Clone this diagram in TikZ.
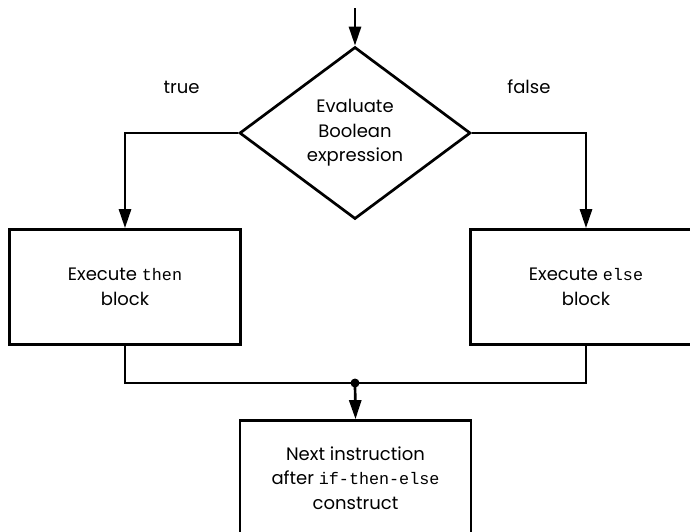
\documentclass[tikz,border=0pt]{standalone}
\usepackage{fontspec}
\setmainfont{Poppins}
\setmonofont[Scale=0.93]{Liberation Mono}
\usetikzlibrary{arrows.meta,shapes.geometric}

\begin{document}
\begin{tikzpicture}[x=1pt,y=-1pt,line width=2.7pt,
    font=\fontsize{18}{24.5}\selectfont,
    flow/.style={-{Triangle[length=19pt,width=12pt]}},
    decision/.style={diamond,draw,minimum width=231pt,minimum height=172pt,
        aspect=1.34,inner sep=0pt,align=center},
    block/.style={rectangle,draw,minimum width=231pt,minimum height=115pt,
        inner sep=0pt,align=center}]
    \useasboundingbox (0,0) rectangle (690,531);
    \clip (0,0) rectangle (690,531);

    % Test and the two branches:
    \coordinate (entry) at (355,8);
    \node [decision] (cond) at (355,133) {Evaluate\\Boolean\\expression};
    \node [block] (thenbox) at (125,287) {Execute \texttt{then}\\block};
    \node [block] (elsebox) at (586,287) {Execute \texttt{else}\\block};
    \node [block] (nextbox) at (355.5,478) {Next instruction\\after \texttt{if-then-else}\\construct};

    \draw [flow] (entry) -- (cond.north);
    \draw [flow] (cond.west) -| (thenbox.north) node [pos=0.25,above=35pt] {true};
    \draw [flow] (cond.east) -| (elsebox.north) node [pos=0.25,above=35pt] {false};

    % Both branches meet again:
    \coordinate (join) at (355,383);
    \draw (thenbox.south) |- (join) -| (elsebox.south);
    \fill (join) circle (4.5pt);
    \draw [flow] (join) -- (nextbox.north);
\end{tikzpicture}
\end{document}
